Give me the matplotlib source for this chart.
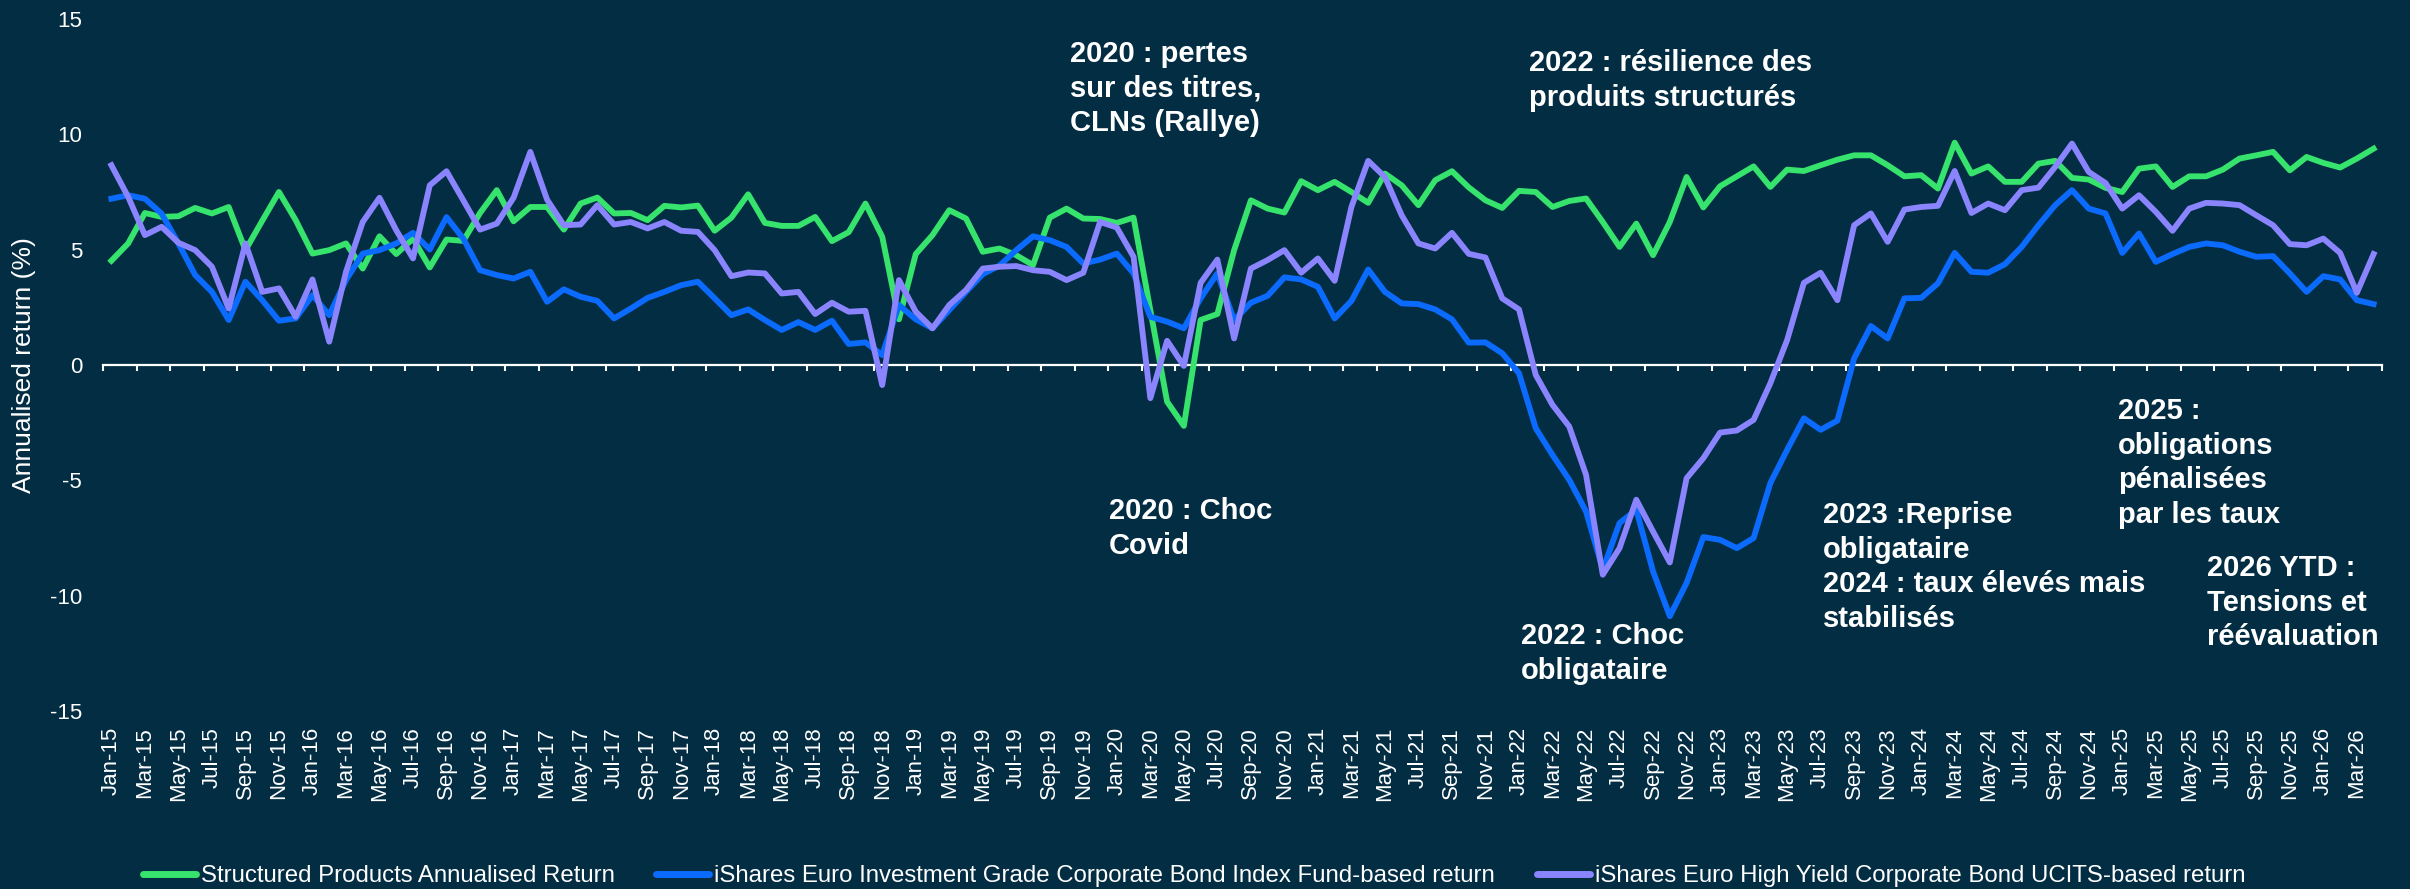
import matplotlib
matplotlib.use("Agg")
import matplotlib.pyplot as plt
from matplotlib.lines import Line2D

plt.rcParams['font.family'] = ['Liberation Sans', 'DejaVu Sans']
plt.rcParams['axes.unicode_minus'] = False

# ---------------- data ----------------
month_names = ['Jan', 'Feb', 'Mar', 'Apr', 'May', 'Jun', 'Jul', 'Aug', 'Sep', 'Oct', 'Nov', 'Dec']
dates = [f"{m}-{y:02d}" for y in range(15, 27) for m in month_names][:136]   # Jan-15 .. Apr-26

structured = [
    4.52, 5.27, 6.59, 6.42, 6.45, 6.81, 6.57, 6.85, 4.98, 6.25,
    7.50, 6.28, 4.83, 4.98, 5.27, 4.18, 5.58, 4.81, 5.48, 4.23,
    5.44, 5.38, 6.59, 7.58, 6.23, 6.85, 6.85, 5.87, 7.00, 7.26,
    6.57, 6.59, 6.28, 6.90, 6.83, 6.91, 5.82, 6.39, 7.40, 6.16,
    6.03, 6.03, 6.42, 5.37, 5.76, 7.00, 5.56, 1.98, 4.81, 5.63,
    6.71, 6.35, 4.91, 5.05, 4.76, 4.33, 6.39, 6.78, 6.35, 6.33,
    6.16, 6.39, 2.38, -1.59, -2.64, 1.95, 2.21, 4.98, 7.14, 6.78,
    6.61, 7.97, 7.58, 7.94, 7.50, 7.03, 8.30, 7.79, 6.93, 8.01,
    8.40, 7.70, 7.14, 6.81, 7.55, 7.50, 6.85, 7.11, 7.22, 6.20,
    5.12, 6.13, 4.76, 6.20, 8.15, 6.83, 7.75, 8.18, 8.61, 7.72,
    8.47, 8.41, 8.66, 8.90, 9.09, 9.09, 8.66, 8.18, 8.23, 7.65,
    9.64, 8.30, 8.61, 7.94, 7.94, 8.73, 8.85, 8.11, 8.04, 7.68,
    7.50, 8.51, 8.61, 7.72, 8.18, 8.18, 8.47, 8.95, 9.09, 9.24,
    8.44, 9.02, 8.76, 8.56, 8.95, 9.38,
]

ig_bond = [
    7.21, 7.36, 7.21, 6.56, 5.27, 3.90, 3.17, 1.95, 3.61, 2.81,
    1.92, 2.02, 3.03, 2.16, 3.68, 4.83, 4.98, 5.27, 5.73, 5.01,
    6.41, 5.48, 4.11, 3.90, 3.75, 4.04, 2.74, 3.28, 2.96, 2.78,
    2.02, 2.45, 2.91, 3.17, 3.46, 3.61, 2.89, 2.16, 2.41, 1.95,
    1.52, 1.86, 1.52, 1.92, 0.91, 0.98, 0.43, 2.60, 1.98, 1.59,
    2.38, 3.17, 3.94, 4.31, 4.98, 5.58, 5.41, 5.12, 4.40, 4.57,
    4.83, 3.97, 2.09, 1.88, 1.59, 2.89, 3.97, 1.95, 2.70, 3.00,
    3.80, 3.71, 3.39, 2.02, 2.78, 4.14, 3.17, 2.67, 2.64, 2.41,
    1.98, 0.97, 0.98, 0.51, -0.36, -2.74, -3.90, -4.98, -6.35, -8.87,
    -6.85, -6.28, -8.95, -10.89, -9.45, -7.46, -7.58, -7.94, -7.50, -5.12,
    -3.68, -2.31, -2.81, -2.41, 0.29, 1.69, 1.15, 2.89, 2.91, 3.54,
    4.86, 4.04, 4.00, 4.37, 5.12, 6.06, 6.93, 7.58, 6.78, 6.57,
    4.86, 5.70, 4.47, 4.81, 5.12, 5.27, 5.19, 4.91, 4.69, 4.72,
    3.97, 3.17, 3.85, 3.71, 2.81, 2.64,
]

hy_bond = [
    8.66, 7.29, 5.63, 5.99, 5.30, 4.98, 4.26, 2.45, 5.27, 3.17,
    3.32, 2.09, 3.71, 1.01, 4.04, 6.20, 7.25, 5.84, 4.62, 7.79,
    8.40, 7.14, 5.87, 6.13, 7.25, 9.24, 7.17, 6.06, 6.09, 6.93,
    6.09, 6.20, 5.92, 6.20, 5.82, 5.77, 4.98, 3.85, 4.01, 3.97,
    3.10, 3.17, 2.21, 2.70, 2.31, 2.35, -0.87, 3.68, 2.31, 1.59,
    2.60, 3.25, 4.18, 4.26, 4.29, 4.11, 4.04, 3.68, 4.00, 6.20,
    5.96, 4.69, -1.44, 1.05, -0.04, 3.56, 4.57, 1.15, 4.18, 4.55,
    4.98, 4.00, 4.62, 3.65, 6.85, 8.85, 8.15, 6.49, 5.27, 5.05,
    5.73, 4.82, 4.66, 2.89, 2.41, -0.43, -1.73, -2.67, -4.76, -9.09,
    -7.94, -5.84, -7.22, -8.56, -4.91, -4.04, -2.93, -2.84, -2.38, -0.79,
    1.08, 3.56, 4.00, 2.81, 6.06, 6.57, 5.34, 6.74, 6.85, 6.90,
    8.41, 6.59, 7.00, 6.71, 7.58, 7.69, 8.59, 9.60, 8.37, 7.89,
    6.78, 7.36, 6.64, 5.82, 6.78, 7.03, 7.00, 6.93, 6.49, 6.06,
    5.24, 5.19, 5.48, 4.86, 3.13, 4.81,
]

series_names = [
    "Structured Products Annualised Return",
    "iShares Euro Investment Grade Corporate Bond Index Fund-based return",
    "iShares Euro High Yield Corporate Bond UCITS-based return",
]

annotations = [
    ("2020 : pertes\nsur des titres,\nCLNs (Rallye)", 1070, 40),
    ("2022 : résilience des\nproduits structurés", 1529, 49),
    ("2020 : Choc\nCovid", 1109, 497),
    ("2022 : Choc\nobligataire", 1521, 622),
    ("2023 :Reprise\nobligataire\n2024 : taux élevés mais\nstabilisés", 1823, 501),
    ("2025 :\nobligations\npénalisées\npar les taux", 2118, 397),
    ("2026 YTD :\nTensions et\nréévaluation", 2207, 554),
]

# ---------------- style ----------------
BG = '#032D43'
GREEN = '#36E36C'
BLUE = '#0B6BFF'
PURPLE = '#8A84FF'
W, H = 2410, 889

fig = plt.figure(figsize=(W / 100, H / 100), dpi=100, facecolor=BG)
ax = fig.add_axes([103 / W, 1 - 711 / H, (2382 - 103) / W, (711 - 19) / H], facecolor=BG)

x = list(range(len(dates)))
lw = 4.2
ax.plot(x, structured, color=GREEN, lw=lw, solid_joinstyle='round', zorder=3)
ax.plot(x, ig_bond, color=BLUE, lw=lw, solid_joinstyle='round', zorder=4)
ax.plot(x, hy_bond, color=PURPLE, lw=lw, solid_joinstyle='round', zorder=5)

ax.set_xlim(-0.5, len(dates) - 0.5)
ax.set_ylim(-15, 15)

# y axis
ax.set_yticks(range(-15, 16, 5))
ax.tick_params(axis='y', length=0, pad=15, labelsize=16, labelcolor='white')
for s in ['left', 'right', 'top']:
    ax.spines[s].set_visible(False)

# x axis line at zero with tick marks on category boundaries
ax.spines['bottom'].set_position(('data', 0))
ax.spines['bottom'].set_color('white')
ax.spines['bottom'].set_linewidth(1.6)
ax.set_xticks([i - 0.5 for i in range(0, len(dates) + 1, 2)])
ax.tick_params(axis='x', length=4.5, width=1.5, color='white', direction='out',
               labelbottom=False)

# category labels at bottom of plot
sec = ax.secondary_xaxis(0)
sec.set_xticks(list(range(0, len(dates), 2)), labels=dates[::2], rotation=90)
sec.tick_params(length=0, pad=11.5, labelsize=16, labelcolor='white')
for s in sec.spines.values():
    s.set_visible(False)

# y label
fig.text(24 / W, 1 - 365 / H, "Annualised return (%)", rotation=90,
         ha='center', va='center', fontsize=19, color='white')

# annotations
for txt, xl, yt in annotations:
    fig.text(xl / W, 1 - yt / H, txt, ha='left', va='top', fontsize=21,
             fontweight='bold', color='white', linespacing=1.3)

# legend
handles = [Line2D([], [], color=c, lw=5, solid_capstyle='round') for c in (GREEN, BLUE, PURPLE)]
fig.legend(handles, series_names, loc='center', bbox_to_anchor=(1194 / W, 1 - 876 / H),
           ncol=3, frameon=False, fontsize=17.3, labelcolor='white',
           handlelength=2.2, handletextpad=0.2, columnspacing=1.75,
           borderaxespad=0, borderpad=0)

fig.savefig('out.png', dpi=100, facecolor=BG)
